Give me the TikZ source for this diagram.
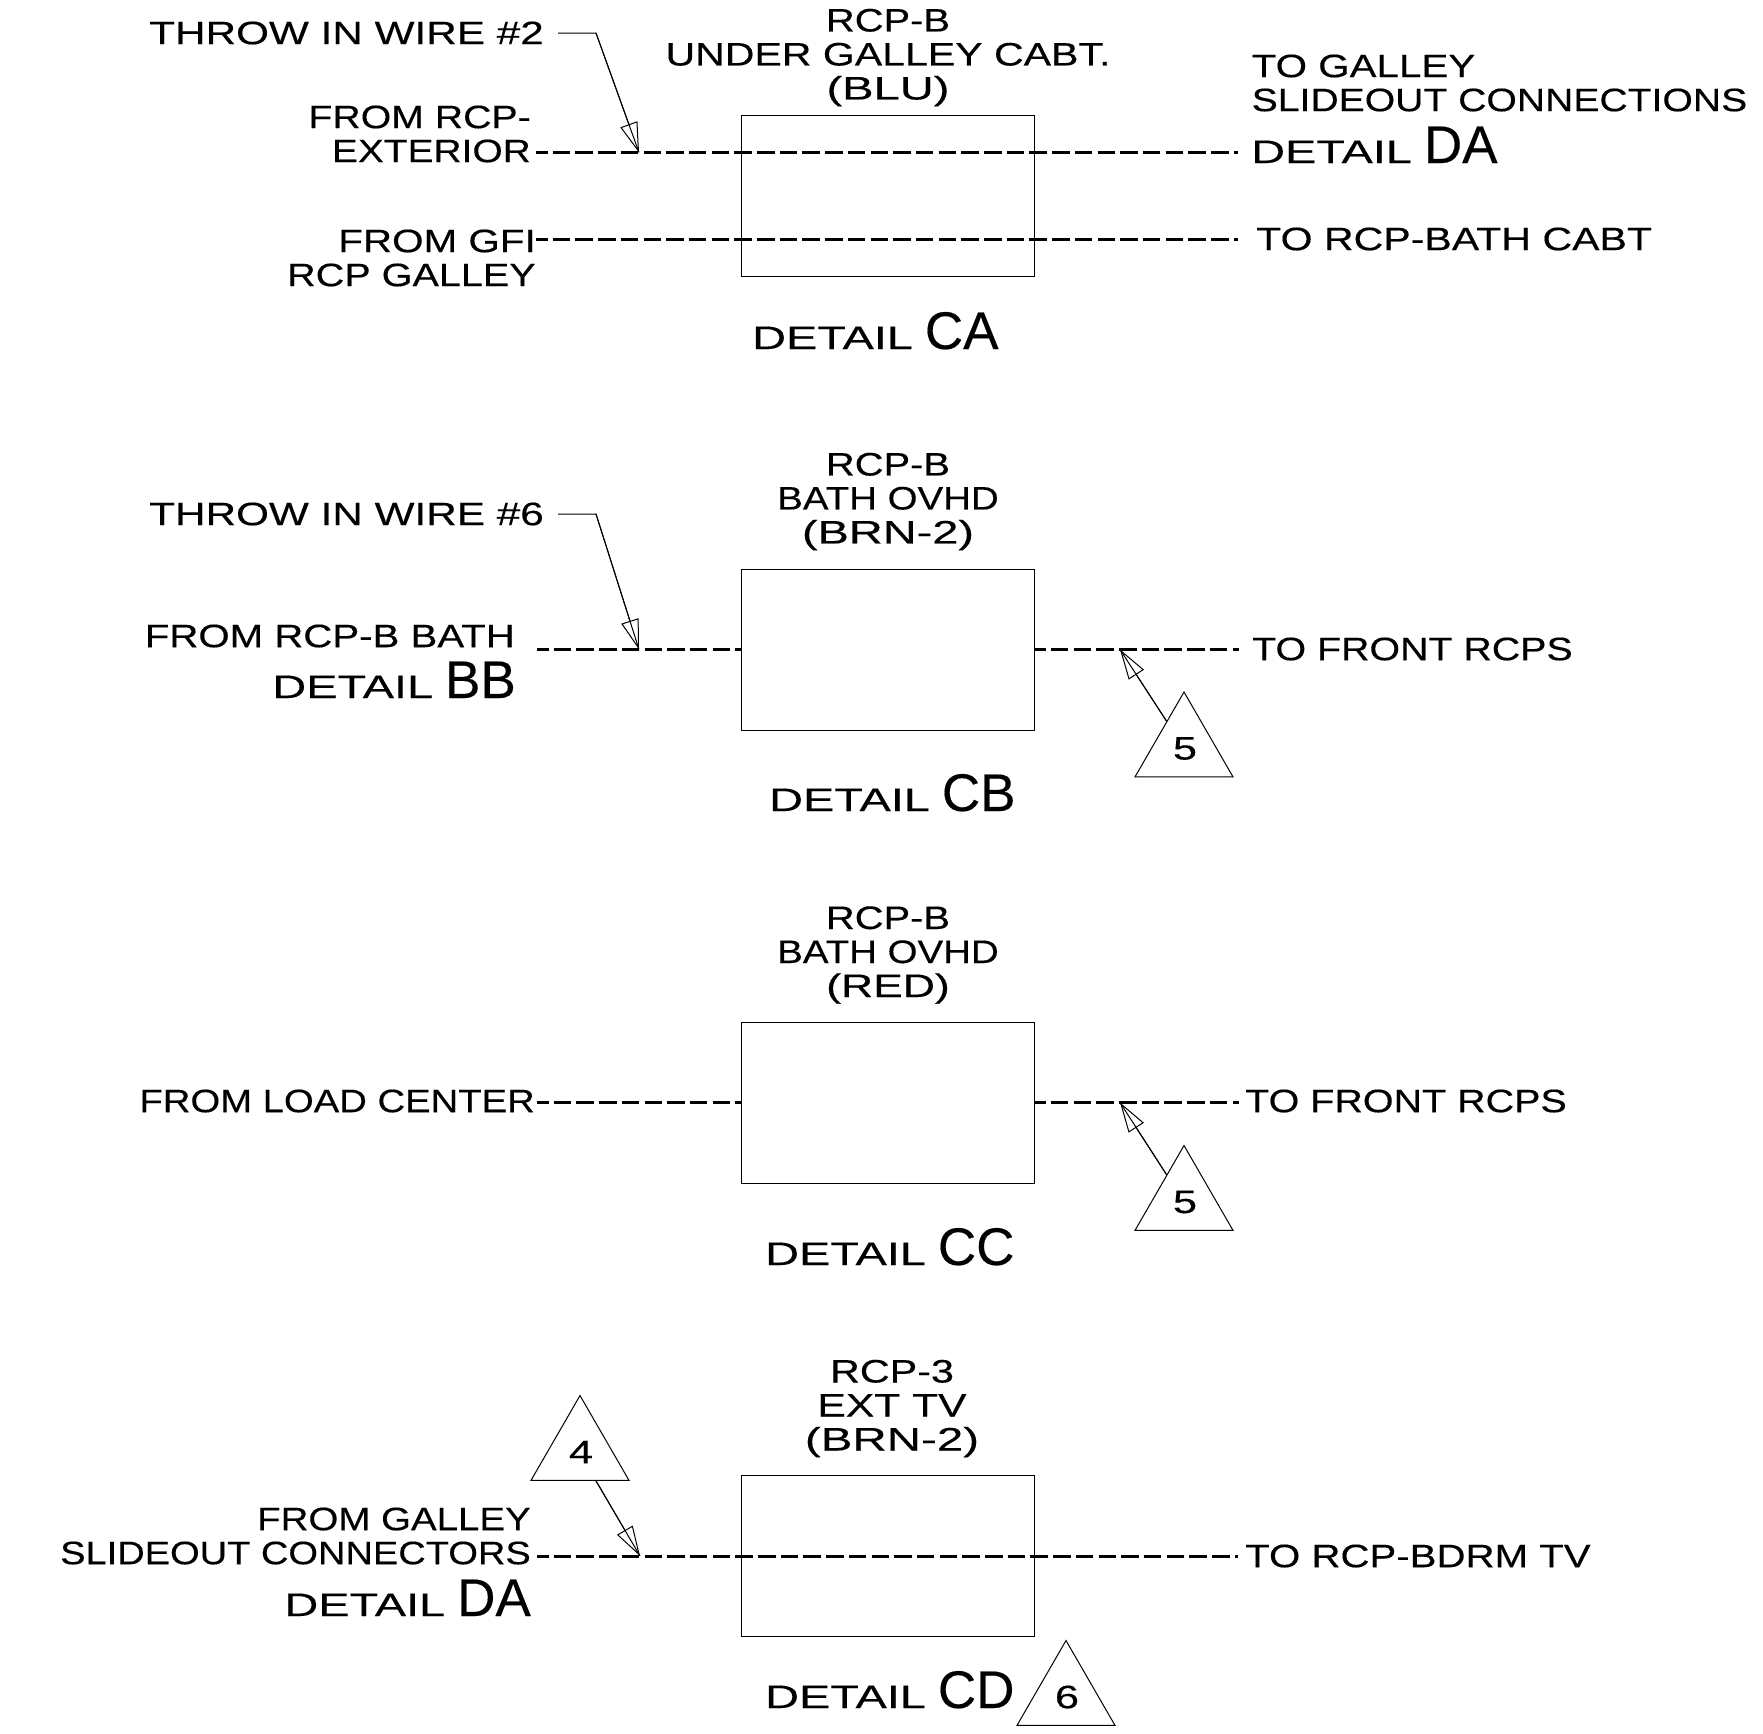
\documentclass[tikz,border=0pt]{standalone}
\usepackage{fontspec}
\usetikzlibrary{arrows.meta,shapes.geometric,calc}
\newfontfamily\widefont[FakeStretch=1.33,FakeBold=0.3]{Liberation Sans}
\newfontfamily\plainfont[FakeBold=0.3]{Liberation Sans}
\newcommand{\sx}[2]{\scalebox{#1}[1]{#2}}
\newcommand{\detailtext}[1]{\sx{1.085}{DETAIL} {\plainfont\fontsize{53}{53}\selectfont #1}}
\tikzset{
    lab/.style={inner sep=0pt,font=\widefont\fontsize{32.5}{34}\selectfont},
    devbox/.style={draw,minimum width=293pt,minimum height=161pt,inner sep=0pt},
    wire/.style={line width=3pt,dash pattern=on 17.5pt off 5.2pt,dash phase=6pt},
    thin line/.style={line width=1pt},
    headtip/.style={line width=1pt,-{Triangle[open,length=30pt,width=18pt]}},
    tag/.style={draw,line width=1pt,regular polygon,regular polygon sides=3,minimum size=113pt,inner sep=0pt,font=\widefont\fontsize{32.5}{34}\selectfont},
}
\begin{document}
\begin{tikzpicture}[x=1pt,y=-1pt]
    \useasboundingbox (0,0) rectangle (1763,1733);
    % boxes with their titles
    \foreach \nm/\yy/\xt/\yt/\txt in {ca/196/888/57.5/{\sx{.923}{RCP-B}\\\sx{.95}{UNDER GALLEY CABT.}\\\sx{1.09}{(BLU)}},
        cb/649.5/888/501.5/{\sx{.923}{RCP-B}\\\sx{.89}{BATH OVHD}\\\sx{1.086}{(BRN-2)}},
        cc/1102.5/888/955/{\sx{.923}{RCP-B}\\\sx{.89}{BATH OVHD}\\\sx{1.03}{(RED)}},
        cd/1556/892/1408.5/{\sx{.956}{RCP-3}\\\sx{.985}{EXT TV}\\\sx{1.1}{(BRN-2)}}} {
        \node[devbox] (box\nm) at (887.5,\yy) {};
        \node[lab,align=center] (title\nm) at (\xt,\yt) {\txt};
    }
    % wire ends
    \foreach \nm/\xl/\xr/\yy in {aa/536/1238/152.5,ab/536/1238/239.5,b/537/1239/649.5,c/537/1239/1102.5,d/537/1238/1556} {
        \coordinate (wl\nm) at (\xl,\yy);
        \coordinate (wr\nm) at (\xr,\yy);
    }
    \draw[wire] (wlaa)--(wraa);
    \draw[wire] (wlab)--(wrab);
    \draw[wire] (wlb)--(boxcb.west);
    \draw[wire] (boxcb.east)--(wrb);
    \draw[wire] (wlc)--(boxcc.west);
    \draw[wire] (boxcc.east)--(wrc);
    \draw[wire] (wld)--(wrd);
    % left labels
    \node[lab,anchor=east] (throwa) at (544,33) {\sx{.978}{THROW IN WIRE \#2}};
    \node[lab,anchor=east] (throwb) at (544,514) {\sx{.978}{THROW IN WIRE \#6}};
    \node[lab,anchor=east,align=right] (fromext) at (531,134) {\sx{.908}{FROM RCP-}\\\sx{.9}{EXTERIOR}};
    \node[lab,anchor=east,align=right] (fromgfi) at (536,258) {\sx{.935}{FROM GFI}\\\sx{.916}{RCP GALLEY}};
    \node[lab,anchor=east] (frombath) at (515,636) {\sx{.93}{FROM RCP-B BATH}};
    \node[lab,anchor=base east] (detbb) at (516,698) {\detailtext{BB}};
    \node[lab,anchor=east] (fromload) at (535,1101) {\sx{.885}{FROM LOAD CENTER}};
    \node[lab,anchor=east,align=right] (fromslide) at (531,1536) {\sx{.89}{FROM GALLEY}\\\sx{.88}{SLIDEOUT CONNECTORS}};
    \node[lab,anchor=base east] (detda) at (531,1616) {\detailtext{DA}};
    % right labels
    \node[lab,anchor=west,align=left] (togalley) at (1251.5,83) {\sx{.934}{TO GALLEY}\\\sx{.905}{SLIDEOUT CONNECTIONS}};
    \node[lab,anchor=base west] (detdb) at (1251,163) {\detailtext{DA}};
    \node[lab,anchor=west] (tobath) at (1256,239) {\sx{.951}{TO RCP-BATH CABT}};
    \node[lab,anchor=west] (tofrontb) at (1252,649) {\sx{.91}{TO FRONT RCPS}};
    \node[lab,anchor=west] (tofrontc) at (1245,1101) {\sx{.913}{TO FRONT RCPS}};
    \node[lab,anchor=west] (tobdrm) at (1245,1556) {\sx{.93}{TO RCP-BDRM TV}};
    % detail names
    \node[lab,anchor=base west] (detca) at (752,349) {\detailtext{CA}};
    \node[lab,anchor=base west] (detcb) at (769,811) {\detailtext{CB}};
    \node[lab,anchor=base west] (detcc) at (765,1265) {\detailtext{CC}};
    \node[lab,anchor=base west] (detcd) at (765,1708) {\detailtext{CD}};
    % tags
    \node[tag] (tagb) at (1184,748.5) {\hspace{2pt}5};
    \node[tag] (tagc) at (1184,1202) {\hspace{2pt}5};
    \node[tag] (tagd) at (580,1452) {\hspace{2pt}4};
    \node[tag] (tage) at (1066,1697) {\hspace{2pt}6};
    % leaders
    \foreach \nm/\yy/\yt in {a/33/152.5,b/514/649.5} {
        \coordinate (lead\nm) at (558,\yy);
        \coordinate (knee\nm) at (596,\yy);
        \coordinate (tip\nm) at (639,\yt);
        \draw[thin line] (lead\nm)--(knee\nm)--(tip\nm);
        \draw[headtip] (knee\nm)--(tip\nm);
    }
    \coordinate (tiptb) at (1120,649.5);
    \coordinate (tiptc) at (1120,1102.5);
    \coordinate (tiptd) at (640,1556);
    \foreach \nm in {b,c} {
        \draw[thin line] ($(tag\nm.corner 1)!0.35!(tag\nm.corner 2)$)--(tipt\nm);
        \draw[headtip] ($(tag\nm.corner 1)!0.35!(tag\nm.corner 2)$)--(tipt\nm);
    }
    \draw[thin line] ($(tagd.corner 2)!0.66!(tagd.corner 3)$)--(tiptd);
    \draw[headtip] ($(tagd.corner 2)!0.66!(tagd.corner 3)$)--(tiptd);
\end{tikzpicture}
\end{document}
